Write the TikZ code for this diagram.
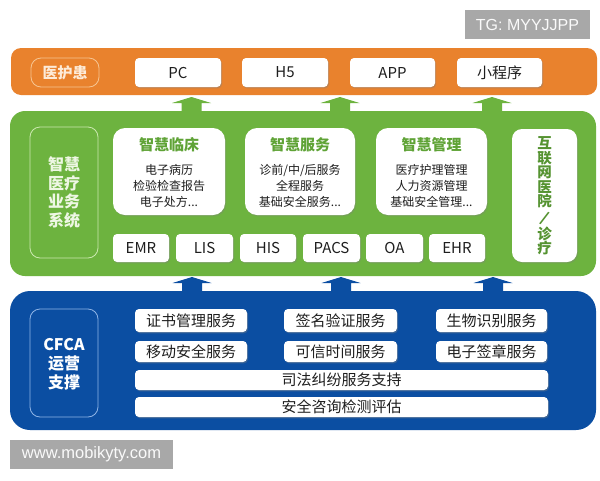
\documentclass[tikz,border=0pt]{standalone}
\usepackage{fontspec}
\setmainfont{Noto Sans CJK SC}
\newfontfamily\wmfont{Liberation Sans}
\usetikzlibrary{shadows}
\definecolor{org}{HTML}{E9822D}
\definecolor{orgline}{HTML}{F6C592}
\definecolor{orgtxt}{HTML}{FDEBD8}
\definecolor{grn}{HTML}{6DB33F}
\definecolor{grnline}{HTML}{CBE8B0}
\definecolor{grntxt}{HTML}{EEF7E4}
\definecolor{gtxt}{HTML}{5FA336}
\definecolor{blu}{HTML}{0B4EA2}
\definecolor{bluline}{HTML}{8FB4E6}
\definecolor{wm}{HTML}{A8A8A8}
\definecolor{txt}{HTML}{1E1E1E}
\newcommand{\boxat}[7]{%
  \pgfmathsetmacro\bw{#5-#3}\pgfmathsetmacro\bh{#6-#4}%
  \node[#2, minimum width=\bw pt, minimum height=\bh pt] (#1) at ({(#3+#5)/2},{(#4+#6)/2}) {#7};}
\newcommand{\blockarrow}[6]{% name, x, tip, base, bottom, colour
  \fill[#6] (#2,#3) -- (#2+19.5,#4) -- (#2+10,#4) -- (#2+10,#5) -- (#2-10,#5) -- (#2-10,#4) -- (#2-19.5,#4) -- cycle;
  \coordinate (#1) at (#2,#3);}
\begin{document}
\begin{tikzpicture}[x=1pt,y=-1pt,
  panelbox/.style={inner sep=0pt, fill=#1},
  wbox/.style={fill=white, rounded corners=4pt, inner sep=0pt, text=txt,
     drop shadow={shadow xshift=1pt, shadow yshift=-1.3pt, opacity=0.4},
     font=\fontsize{15}{15}\selectfont},
  cbox/.style={fill=white, rounded corners=12pt, inner sep=0pt,
     drop shadow={shadow xshift=1pt, shadow yshift=-1.3pt, opacity=0.35}},
  sidebox/.style={draw=#1, line width=0.8pt, rounded corners=10pt, inner sep=0pt},
  ttl/.style={text=gtxt, font=\fontsize{15}{15}\selectfont\bfseries, inner sep=0pt},
  body/.style={text=txt, font=\fontsize{12}{16}\selectfont, align=center, inner sep=0pt},
  wmbox/.style={fill=wm, inner sep=0pt, text=white!94!wm, font=\wmfont\fontsize{16}{16}\selectfont}
]
\useasboundingbox (0,0) rectangle (600,480);
\fill[white] (0,0) rectangle (600,480);

% watermark top
\boxat{tg}{wmbox}{465}{10}{590}{39}{TG: MYYJJPP}

% ---------- orange layer
\boxat{orange}{panelbox=org, rounded corners=10pt}{11}{48}{597}{95}{}
\boxat{yhh}{sidebox=orgline, text=orgtxt, font=\fontsize{15}{15}\selectfont\bfseries}{31}{58}{99}{87}{医护患}
\boxat{pc}{wbox}{135}{58}{221}{87}{PC}
\boxat{h5}{wbox}{242}{58}{328}{87}{H5}
\boxat{app}{wbox}{350}{58}{435}{87}{APP}
\boxat{xcx}{wbox}{457}{58}{542}{87}{小程序}

% ---------- green layer
\boxat{green}{panelbox=grn, rounded corners=15pt}{10}{111}{596}{276}{}
\blockarrow{ga1}{191.5}{97}{103}{112}{grn}
\blockarrow{ga2}{340}{97}{103}{112}{grn}
\blockarrow{ga3}{492}{97}{103}{112}{grn}

\boxat{zhyl}{sidebox=grnline}{30}{127}{98}{258}{}
\node[text=grntxt, font=\fontsize{16}{18.5}\selectfont\bfseries, align=center, inner sep=0pt] (zhyltxt) at (zhyl.center) {智慧\\医疗\\业务\\系统};

\boxat{lc}{cbox}{113}{128}{225}{215}{}
\node[ttl] (lct) at (169,145) {智慧临床};
\node[body] (lcb) at (169,186) {电子病历\\检验检查报告\\电子处方...};

\boxat{fw}{cbox}{245}{128}{355}{215}{}
\node[ttl] (fwt) at (300,145) {智慧服务};
\node[body] (fwb) at (300,186) {诊前/中/后服务\\全程服务\\基础安全服务...};

\boxat{gl}{cbox}{376}{128}{487}{215}{}
\node[ttl] (glt) at (431.5,145) {智慧管理};
\node[body] (glb) at (431.5,186) {医疗护理管理\\人力资源管理\\基础安全管理...};

\boxat{hlw}{cbox, rounded corners=10pt}{512}{129}{577}{262}{}
\node[text=gtxt!90!black, font=\fontsize{14.5}{14.5}\selectfont\bfseries, align=center, inner sep=0pt] (hlwt) at (544.5,196) {互\\联\\网\\医\\院\\\rotatebox{-25}{/}\\诊\\疗};

\boxat{emr}{wbox}{113}{234}{169}{262}{EMR}
\boxat{lis}{wbox}{176}{234}{233}{262}{LIS}
\boxat{his}{wbox}{240}{234}{296}{262}{HIS}
\boxat{pacs}{wbox}{303}{234}{360}{262}{PACS}
\boxat{oa}{wbox}{366}{234}{423}{262}{OA}
\boxat{ehr}{wbox}{429}{234}{485}{262}{EHR}

% ---------- blue layer
\boxat{blue}{panelbox=blu, rounded corners=20pt}{10}{291}{596}{430}{}
\blockarrow{ba1}{192}{277}{283}{292}{blu}
\blockarrow{ba2}{341}{277}{283}{292}{blu}
\blockarrow{ba3}{493}{277}{283}{292}{blu}

\boxat{cfca}{sidebox=bluline}{30}{309}{98}{417}{}
\node[text=white, font=\fontsize{16}{19}\selectfont\bfseries, align=center, inner sep=0pt] (cfcat) at (64,364) {CFCA\\运营\\支撑};

\boxat{zs}{wbox}{135}{309}{247}{332}{证书管理服务}
\boxat{qm}{wbox}{284}{309}{397}{332}{签名验证服务}
\boxat{sw}{wbox}{436}{309}{547}{332}{生物识别服务}
\boxat{yd}{wbox}{135}{341}{247}{362}{移动安全服务}
\boxat{kx}{wbox}{284}{341}{397}{362}{可信时间服务}
\boxat{dz}{wbox}{436}{341}{547}{362}{电子签章服务}
\boxat{sf}{wbox}{135}{370}{548}{390}{司法纠纷服务支持}
\boxat{aq}{wbox}{135}{397}{548}{417}{安全咨询检测评估}

% watermark bottom
\boxat{www}{wmbox, font=\wmfont\fontsize{16.5}{16.5}\selectfont}{10}{440}{173}{469}{www.mobikyty.com}
\end{tikzpicture}
\end{document}
